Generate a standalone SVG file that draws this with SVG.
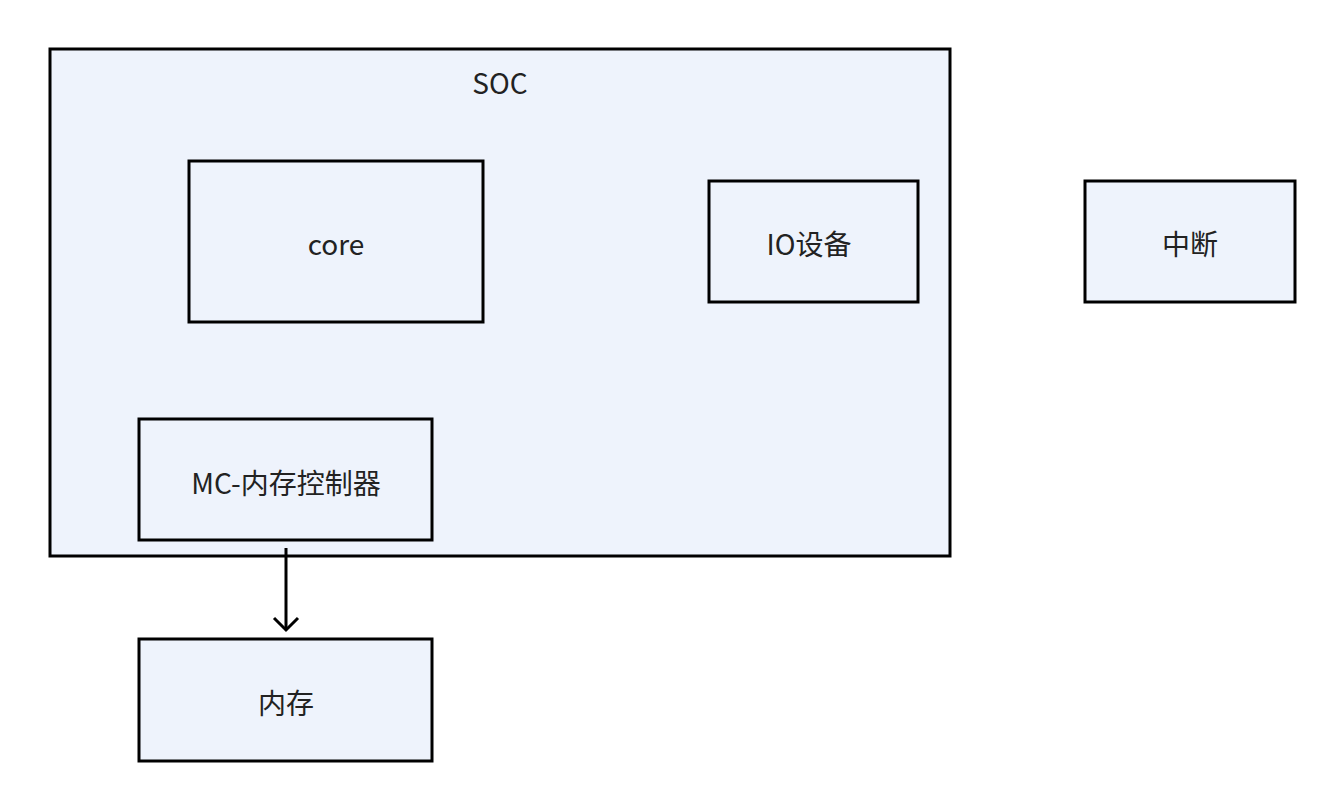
<svg xmlns="http://www.w3.org/2000/svg" width="1344" height="810" viewBox="0 0 1344 810">
<defs>
<style>
.box{fill:#eef3fc;stroke:#000;stroke-width:3}
.t{font-family:"Noto Sans CJK SC","Noto Sans",sans-serif;font-size:28px;fill:#222;text-anchor:middle;dominant-baseline:central}
.conn{stroke:#000;stroke-width:3;fill:none}
</style>
<marker id="arr" markerWidth="30" markerHeight="30" refX="14" refY="14" orient="auto" markerUnits="userSpaceOnUse">
<path d="M2,2 L14,14 L2,26" fill="none" stroke="#000" stroke-width="3"/>
</marker>
</defs>
<rect width="1344" height="810" fill="#fff"/>
<g id="soc"><rect class="box" x="50" y="49" width="900" height="507"/><text class="t" x="500" y="82">SOC</text></g>
<g id="core"><rect class="box" x="189" y="161" width="294" height="161"/><text class="t" x="336" y="243">core</text></g>
<g id="io"><rect class="box" x="709" y="181" width="209" height="121"/><text class="t" x="809" y="243">IO设备</text></g>
<g id="interrupt"><rect class="box" x="1085" y="181" width="210" height="121"/><text class="t" x="1190" y="243">中断</text></g>
<g id="mc"><rect class="box" x="139" y="419" width="293" height="121"/><text class="t" x="286" y="482">MC-内存控制器</text></g>
<g id="mem"><rect class="box" x="139" y="639" width="293" height="122"/><text class="t" x="286" y="702">内存</text></g>
<g id="connectors"><line class="conn" x1="286" y1="548" x2="286" y2="630" marker-end="url(#arr)"/></g>
</svg>
